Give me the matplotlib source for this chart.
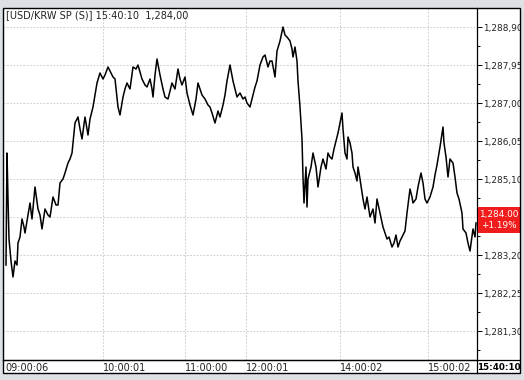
import matplotlib
matplotlib.use("Agg")
import matplotlib.pyplot as plt
from matplotlib.patches import Rectangle
from matplotlib.lines import Line2D

tick_no = [6, 7, 8, 9, 11, 13, 15, 17, 18, 20, 22, 24, 25, 27, 30, 32, 35, 38, 40, 42,
           45, 48, 50, 53, 56, 58, 60, 63, 65, 68, 70, 72, 73, 75, 78, 80, 82, 85, 88, 90,
           93, 95, 97, 100, 103, 105, 108, 110, 113, 115, 118, 120, 123, 125, 127, 130, 133, 136, 138, 142,
           145, 147, 150, 152, 153, 155, 157,
           160, 163, 165, 168, 170, 172, 175, 178, 180, 182, 185, 187, 190, 193, 196, 198, 200, 202, 205, 208,
           210, 212, 215, 218, 220, 223, 225, 227, 230, 233, 235, 237, 240, 243, 245, 247, 250, 253, 255, 257,
           260, 263, 265, 268, 270, 272, 275, 277, 280, 283, 285, 287, 290, 292, 293, 295, 297, 298, 300, 302,
           303, 304, 306, 307, 308, 311, 313, 316, 318, 321, 323, 326, 328, 330, 332, 334, 337, 338, 340, 342,
           343, 345, 347, 348, 350, 352, 353, 355, 357, 358, 360, 363, 365, 367, 370, 373, 375, 377, 380, 383,
           385, 387, 389, 392, 394, 396, 398, 400, 402, 405, 407, 410, 412, 413, 416, 418, 421, 423, 425, 427,
           430, 433, 435, 437, 440, 443, 444, 446, 448, 450, 453, 455, 457, 459, 462, 463, 466, 468, 470, 473,
           475, 476]
price = [1282.95, 1285.75, 1284.60, 1283.60, 1283.05, 1282.65, 1283.05, 1282.95, 1283.50, 1283.65,
         1284.10, 1283.90, 1283.75, 1284.05, 1284.50, 1284.10, 1284.90, 1284.35, 1284.20, 1283.85,
         1284.35, 1284.20, 1284.15, 1284.65, 1284.45, 1284.45, 1285.00, 1285.10, 1285.25, 1285.50,
         1285.60, 1285.75, 1286.00, 1286.50, 1286.65, 1286.35, 1286.10, 1286.65, 1286.20, 1286.60,
         1286.90, 1287.20, 1287.50, 1287.75, 1287.60, 1287.70, 1287.90, 1287.80, 1287.65, 1287.60,
         1286.90, 1286.70, 1287.15, 1287.35, 1287.50, 1287.35, 1287.90, 1287.85, 1287.95, 1287.60,
         1287.45, 1287.40, 1287.60, 1287.35, 1287.15, 1287.70, 1288.10,
         1287.70, 1287.35, 1287.15, 1287.10, 1287.30, 1287.50, 1287.35, 1287.85, 1287.60, 1287.45,
         1287.65, 1287.25, 1286.95, 1286.70, 1287.10, 1287.50, 1287.35, 1287.20, 1287.10, 1286.95,
         1286.90, 1286.75, 1286.50, 1286.80, 1286.65, 1286.95, 1287.20, 1287.55, 1287.95, 1287.55,
         1287.35, 1287.15, 1287.25, 1287.10, 1287.15, 1287.00, 1286.90, 1287.20, 1287.40, 1287.55,
         1287.95, 1288.15, 1288.20, 1287.90, 1288.05, 1288.05, 1287.65, 1288.30, 1288.55, 1288.90,
         1288.70, 1288.65, 1288.55, 1288.35, 1288.15, 1288.40, 1288.05, 1287.55, 1286.90, 1286.10,
         1285.15, 1284.50, 1285.40, 1284.40, 1285.10, 1285.40, 1285.75, 1285.40, 1284.90, 1285.40,
         1285.60, 1285.35, 1285.75, 1285.65, 1285.60, 1285.85, 1286.15, 1286.25, 1286.50, 1286.75,
         1286.35, 1285.75, 1285.60, 1286.15, 1286.00, 1285.75, 1285.40, 1285.25, 1285.05, 1285.40,
         1285.10, 1284.60, 1284.35, 1284.65, 1284.15, 1284.35, 1284.00, 1284.60, 1284.25, 1283.90,
         1283.75, 1283.60, 1283.65, 1283.40, 1283.50, 1283.70, 1283.40, 1283.55, 1283.65, 1283.80,
         1284.25, 1284.85, 1284.65, 1284.50, 1284.60, 1284.90, 1285.25, 1285.00, 1284.60, 1284.50,
         1284.65, 1284.90, 1285.20, 1285.45, 1285.90, 1286.40, 1286.00, 1285.65, 1285.15, 1285.60,
         1285.50, 1285.15, 1284.75, 1284.60, 1284.25, 1283.85, 1283.75, 1283.50, 1283.30, 1283.85,
         1283.65, 1284.00]

time_pos = [5, 103, 185, 246, 340, 428, 477]
time_labels = ["09:00:06", "10:00:01", "11:00:00", "12:00:01", "14:00:02", "15:00:02", "15:40:10"]
price_ticks = [1281.30, 1282.25, 1283.20, 1284.15, 1285.10, 1286.05, 1287.00, 1287.95, 1288.90]
title = "[USD/KRW SP (S)] 15:40:10  1,284,00"
last_price = "1,284.00"
change = "+1.19%"

W, H = 524, 380
bg = "#dde1e6"
fig = plt.figure(figsize=(W / 100, H / 100), dpi=100, facecolor=bg)


def fx(px):
    return px / W


def fy(py):
    # screen y (top-down) to figure fraction
    return 1 - py / H


# white chart window
fig.add_artist(Rectangle((fx(3), fy(373)), fx(517), 365 / H, transform=fig.transFigure,
                         facecolor="white", edgecolor="none", zorder=-1))

ax = fig.add_axes([fx(3), fy(360), fx(474), 352 / H])
ax.plot(tick_no, price, color="black", lw=1.1)
ax.set_xlim(3, 477)
ax.set_ylim(1280.575, 1289.375)

for s in ["top", "left"]:
    ax.spines[s].set_visible(False)
ax.spines["right"].set_linewidth(0.9)
ax.spines["bottom"].set_linewidth(0.9)

ax.yaxis.tick_right()
ax.set_yticks(price_ticks)
ax.set_yticklabels([f"{p:,.2f}".replace(".", ",") for p in price_ticks])
mids = [(a + b) / 2 for a, b in zip(price_ticks[:-1], price_ticks[1:])]
mids = mids + [price_ticks[-1] + 0.475, price_ticks[0] - 0.475]
ax.set_yticks(mids, minor=True)
ax.tick_params(axis="y", which="major", length=3.5, width=0.7, pad=1,
               labelsize=6.4, labelcolor="#222222")
ax.tick_params(axis="y", which="minor", length=2, width=0.7)
# the label under the last-price tag is hidden by it
for p, lab in zip(price_ticks, ax.get_yticklabels()):
    if abs(p - 1284.15) < 0.01:
        lab.set_visible(False)

ax.set_xticks(time_pos)
ax.set_xticklabels(time_labels)
ax.tick_params(axis="x", length=0, pad=2.5, labelsize=7, labelcolor="#222222")
for lab in ax.get_xticklabels():
    lab.set_ha("left")
last_lab = ax.get_xticklabels()[-1]
last_lab.set_fontweight("bold")
last_lab.set_color("black")
last_lab.set_fontsize(6.3)

ax.grid(True, color="#c4c4c4", lw=0.6, linestyle=(0, (2, 2)))
gl = ax.get_xgridlines()
gl[0].set_visible(False)
gl[-1].set_visible(False)

# axis strip lines below the plot
fig.add_artist(Line2D([fx(3), fx(520)], [fy(360), fy(360)], color="black", lw=0.9,
                      transform=fig.transFigure))
fig.add_artist(Line2D([fx(477), fx(477)], [fy(360), fy(373)], color="black", lw=0.9,
                      transform=fig.transFigure))

# last price tag
fig.add_artist(Rectangle((fx(478), fy(233)), fx(42), 26 / H, transform=fig.transFigure,
                         facecolor="#f21c1c", edgecolor="none", zorder=8))
fig.text(fx(499), fy(214), last_price, color="white", fontsize=6.4, va="center", ha="center", zorder=9)
fig.text(fx(499), fy(226), change, color="white", fontsize=6.4, va="center", ha="center", zorder=9)

fig.text(fx(6), fy(15), title, fontsize=7, color="#222222", va="center", ha="left")

# window chrome right of the frame, then frame border
fig.add_artist(Rectangle((fx(520), 0), fx(4), 1, transform=fig.transFigure,
                         facecolor=bg, edgecolor="none", zorder=10))
fig.add_artist(Rectangle((fx(3), fy(373)), fx(517), 365 / H, transform=fig.transFigure,
                         facecolor="none", edgecolor="black", lw=1.0, zorder=11))

fig.savefig("out.png", dpi=100, facecolor=bg)
